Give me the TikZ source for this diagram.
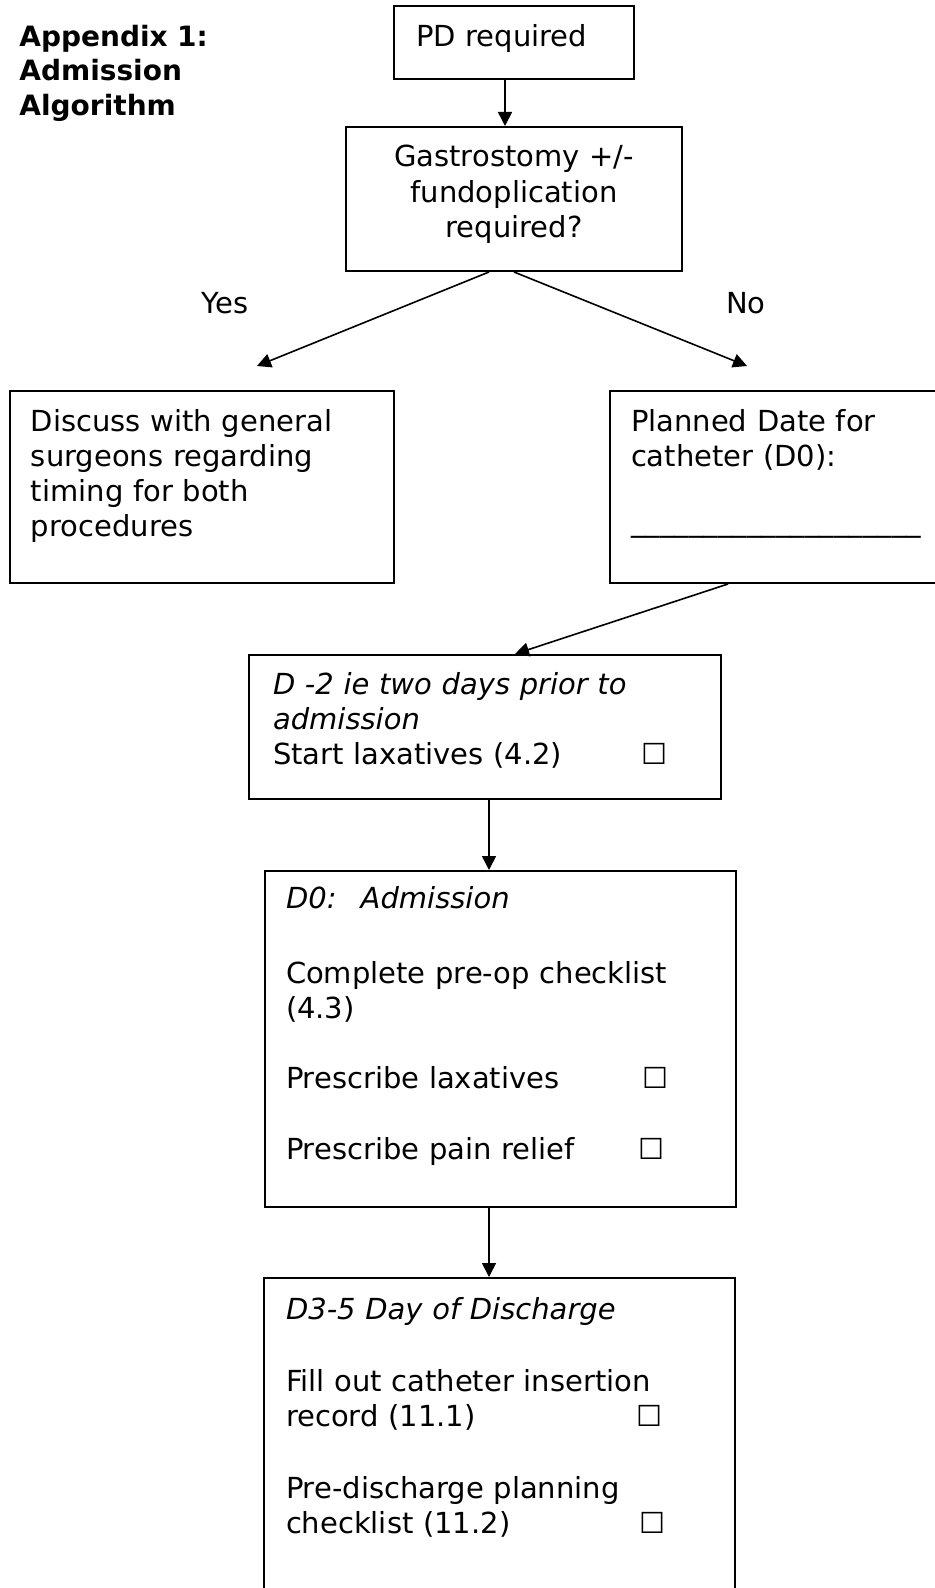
\documentclass[tikz,border=0pt]{standalone}
\usepackage{fontspec}
\setmainfont{DejaVu Sans}
\usetikzlibrary{arrows.meta, positioning}

\newcommand{\bodysize}{\fontsize{14.5pt}{17.6pt}\selectfont}
\newcommand{\tickbox}[2]{\makebox[#1][l]{#2}☐}

\begin{document}
\begin{tikzpicture}[x=0.5pt, y=-0.5pt,
  box/.style={draw, line width=1pt, anchor=north west, inner ysep=0pt,
              align=left, text height=20pt, font=\bodysize},
  title/.style={anchor=north west, inner sep=0pt, align=left, text width=110pt,
                text height=10pt, font=\fontsize{14pt}{17.25pt}\selectfont\bfseries},
  lbl/.style={font=\bodysize},
  arr/.style={line width=0.8pt, -{Triangle[length=7pt, width=7pt]}}
]
\useasboundingbox (0,0) rectangle (934,1588);

% Title
\node[title] (head) at (19,26) {Appendix 1:\\ Admission\\ Algorithm};

% Boxes
\node[box, inner xsep=11pt, text width=98pt, text height=20.5pt, text depth=16pt] (pd) at (393,5) {PD required};
\node[box, align=center, inner xsep=10pt, text width=148pt, text depth=52pt] (gastro) at (345,126)
  {Gastrostomy +/-\\ fundoplication\\ required?};
\node[box, inner xsep=10.5pt, text width=171pt, text depth=76pt] (discuss) at (9,390)
  {Discuss with general\\ surgeons regarding\\ timing for both\\ procedures};
\node[box, inner xsep=10.5pt, text width=149.5pt, text depth=76pt] (planned) at (609,390)
  {Planned Date for\\ catheter (D0):\\[15pt] \_\_\_\_\_\_\_\_\_\_\_\_\_\_\_\_\_\_\_\_};
\node[box, inner xsep=12pt, text width=212pt, text height=19.5pt, text depth=52.5pt] (dtwo) at (248,654)
  {\textit{D -2 ie two days prior to}\\ \textit{admission}\\ \tickbox{184pt}{Start laxatives (4.2)}};
\node[box, inner xsep=10.5pt, text width=214.5pt, text height=18.5pt, text depth=149.5pt] (dzero) at (264,870)
  {\textit{D0:~ Admission}\\[20pt] Complete pre-op checklist\\ (4.3)\\[17.6pt]
   \tickbox{178pt}{Prescribe laxatives}\\[17.6pt] \tickbox{176pt}{Prescribe pain relief}};
\node[box, inner xsep=11pt, text width=213.5pt, text height=20.5pt, text depth=141pt] (dfive) at (263,1277)
  {\textit{D3-5 Day of Discharge}\\[18.5pt] Fill out catheter insertion\\ \tickbox{175pt}{record (11.1)}\\[18.5pt]
   Pre-discharge planning\\ \tickbox{176.5pt}{checklist (11.2)}};

% Branch labels
\node[lbl] (yes) at (225,303) {Yes};
\node[lbl] (no) at (746,303) {No};

% Free arrow ends
\coordinate (yesend) at (257,366);
\coordinate (noend) at (747,366);

% Arrows
\draw[arr] ([xshift=-4.5pt]pd.south) -- ([xshift=-4.5pt]gastro.north);
\draw[arr] ([xshift=-12.5pt]gastro.south) -- (yesend);
\draw[arr] (gastro.south) -- (noend);
\draw[arr] ([xshift=59.5pt]planned.south west) -- ([xshift=133.5pt]dtwo.north west);
\draw[arr] ([xshift=120.5pt]dtwo.south west) -- ([xshift=112.5pt]dzero.north west);
\draw[arr] ([xshift=112.5pt]dzero.south west) -- ([xshift=113pt]dfive.north west);
\end{tikzpicture}
\end{document}
